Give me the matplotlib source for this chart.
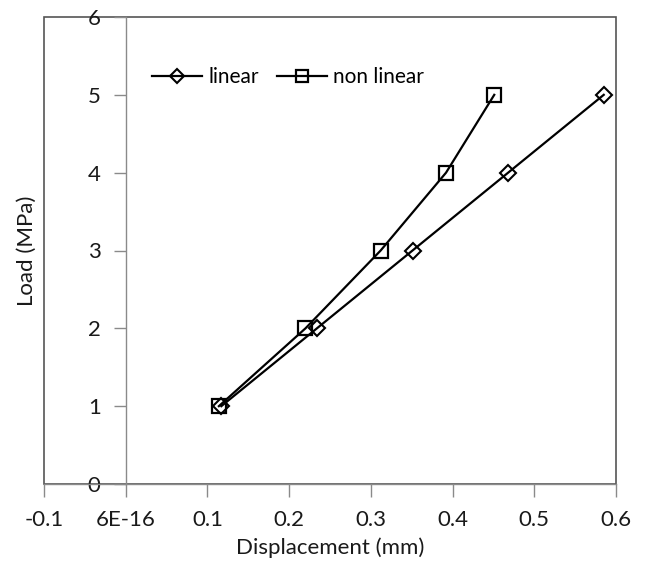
import matplotlib
matplotlib.use("Agg")
import matplotlib.pyplot as plt
from matplotlib.patches import Rectangle

plt.rcParams['font.family'] = ['Lato', 'DejaVu Sans']

load = [1, 2, 3, 4, 5]
disp_linear = [0.117, 0.234, 0.351, 0.468, 0.585]
disp_nonlinear = [0.114, 0.220, 0.312, 0.392, 0.451]
x_ticks = [-0.1, 0.0, 0.1, 0.2, 0.3, 0.4, 0.5, 0.6]
x_tick_labels = ['-0.1', '6E-16', '0.1', '0.2', '0.3', '0.4', '0.5', '0.6']
y_ticks = [0, 1, 2, 3, 4, 5, 6]

FS = 16
TXT = '#1a1a1a'

fig = plt.figure(figsize=(6.47, 5.68), dpi=100)
ax = fig.add_axes([44 / 647, (568 - 484) / 568, (616 - 44) / 647, (484 - 17) / 568])

ax.plot(disp_linear, load, color='black', lw=1.6, marker='D', ms=8,
        mfc='none', mec='black', mew=1.5, label='linear')
ax.plot(disp_nonlinear, load, color='black', lw=1.6, marker='s', ms=10,
        mfc='none', mec='black', mew=1.6, label='non linear')

ax.set_xlim(-0.1, 0.6)
ax.set_ylim(0, 6)

axis_grey = '#8a8a8a'
frame_grey = '#555555'

# outer plot-area frame
for s in ['top', 'right']:
    ax.spines[s].set_visible(False)
ax.add_patch(Rectangle((0, 0), 1, 1, transform=ax.transAxes, fill=False,
                       edgecolor=frame_grey, lw=1.2, zorder=0, clip_on=False))

# value axis crossing at x = 0
ax.spines['left'].set_position(('data', 0))
ax.spines['left'].set_color(axis_grey)
ax.spines['left'].set_linewidth(1.0)
ax.spines['bottom'].set_color(axis_grey)
ax.spines['bottom'].set_linewidth(1.0)

ax.set_xticks(x_ticks)
ax.set_xticklabels(x_tick_labels)
ax.set_yticks(y_ticks)
ax.tick_params(axis='both', direction='out', length=9, width=1.0,
               color=axis_grey, labelsize=FS, labelcolor=TXT)
ax.tick_params(axis='x', pad=10)
ax.tick_params(axis='y', pad=9)

ax.set_xlabel('Displacement (mm)', fontsize=FS, color=TXT, labelpad=5)
ax.set_ylabel('Load (MPa)', fontsize=FS, color=TXT)
ax.yaxis.set_label_coords(-0.012, 0.5)

ax.legend(loc='center left', bbox_to_anchor=(0.189, 0.871), ncol=2, frameon=False,
          fontsize=15, handlelength=2.4, handletextpad=0.3, columnspacing=0.85,
          borderaxespad=0, borderpad=0, markerscale=0.9)

fig.savefig('out.png', dpi=100, facecolor='white')
